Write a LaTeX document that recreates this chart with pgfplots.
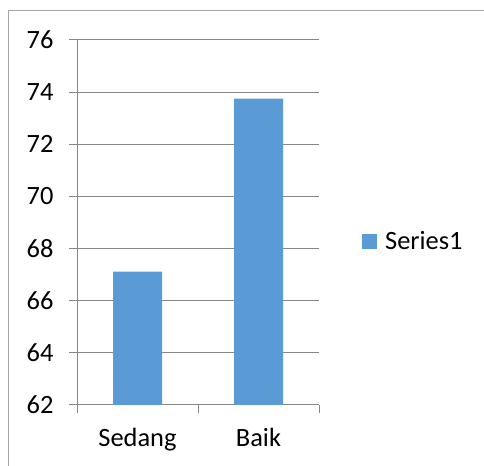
\documentclass[border=0pt]{standalone}
\usepackage{pgfplots}
\pgfplotsset{compat=1.18}
\usepackage{fontspec}
\setmainfont{Carlito}
\definecolor{barblue}{HTML}{5B9BD5}
\definecolor{gridgray}{HTML}{868686}
\definecolor{bordergray}{HTML}{A6A6A6}
\begin{document}
\begin{tikzpicture}[x=1bp,y=1bp]
\useasboundingbox (0,0) rectangle (484,466);
\draw[bordergray, line width=1bp] (8.5,-10) -- (8.5,455) -- (500,455);
\begin{axis}[
  at={(77bp,61bp)}, anchor=south west,
  scale only axis, width=242bp, height=365bp,
  xmin=-0.5, xmax=1.5, ymin=62, ymax=76,
  ytick={62,64,...,76},
  xtick={0,1}, xticklabels={Sedang,Baik},
  minor xtick={-0.5,0.5,1.5},
  axis x line=bottom, axis y line=left,
  axis line style={-, gridgray, line width=1bp},
  tick align=outside, major tick length=8bp, minor tick length=8bp,
  x tick style={draw=none},
  minor x tick style={draw=gridgray, line width=1bp},
  y tick style={gridgray, line width=1bp},
  ymajorgrids, grid style={gridgray, line width=1bp},
  /pgf/number format/assume math mode=true,
  ticklabel style={font=\fontsize{26.5}{30}\selectfont, text=black},
  yticklabel style={xshift=-12bp},
  xticklabel style={yshift=-12bp},
  legend style={draw=none, fill=none, at={(1,0.448)}, anchor=west, xshift=40bp,
    font=\fontsize{26.5}{30}\selectfont},
  legend image code/.code={\fill[barblue] (0bp,-7.5bp) rectangle (15bp,7.5bp); \path (21bp,0);},
]
\addplot[ybar, bar width=49bp, fill=barblue, draw=none] coordinates {(0,67.12) (1,73.75)};
\addlegendentry{Series1}
\end{axis}
\end{tikzpicture}
\end{document}
